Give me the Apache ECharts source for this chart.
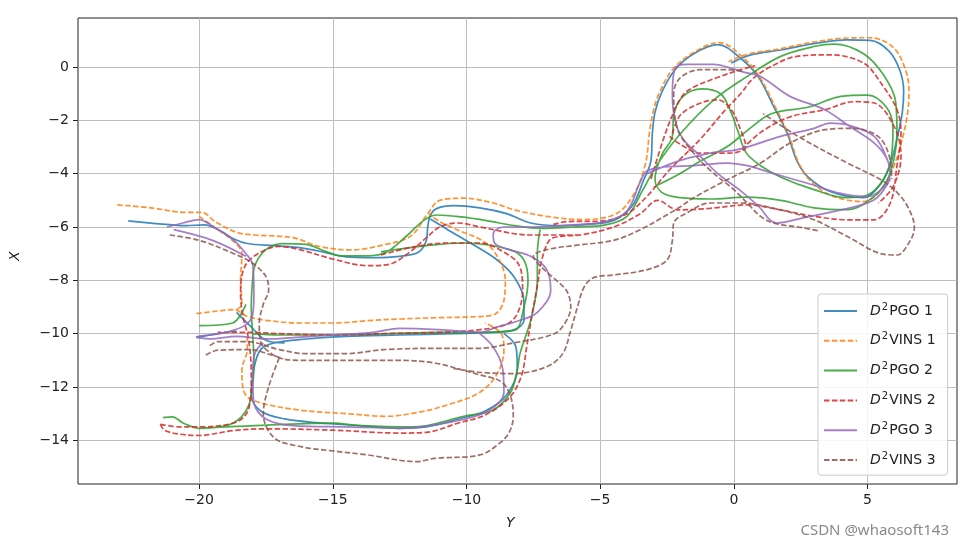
<!DOCTYPE html>
<html><head><meta charset="utf-8">
<script src="https://cdn.jsdelivr.net/npm/echarts@6/dist/echarts.min.js"></script>
<style>html,body{margin:0;padding:0;background:#fff}#c{width:969px;height:548px}</style>
</head><body><div id="c"></div>
<script>
const seriesNames = ['D\u00b2PGO 1','D\u00b2VINS 1','D\u00b2PGO 2','D\u00b2VINS 2','D\u00b2PGO 3','D\u00b2VINS 3'];
const xTicks = [-20,-15,-10,-5,0,5];
const yTicks = [0,-2,-4,-6,-8,-10,-12,-14];
// null = gap between trajectory pieces
const pgo1 = [[-22.65,-5.77],[-21.5,-5.88],[-20.5,-5.95],[-19.8,-5.92],[-19.2,-6.15],[-18.7,-6.45],[-18.2,-6.62],[-17.2,-6.7],[-16.2,-6.78],[-15.3,-6.95],[-14.5,-7.12],[-13.5,-7.15],[-12.5,-7.1],[-11.8,-6.95],[-11.5,-6.5],[-11.45,-6.0],[-11.35,-5.55],[-11.1,-5.3],[-10.5,-5.2],[-9.5,-5.28],[-8.5,-5.5],[-7.6,-5.85],[-6.5,-5.95],[-5.5,-5.9],[-4.5,-5.75],[-3.8,-5.2],[-3.4,-4.3],[-3.1,-3.5],[-3.05,-2.5],[-2.95,-1.7],[-2.7,-0.95],[-2.2,-0.1],[-1.5,0.5],[-0.6,0.84],[0.25,0.33],[0.9,-0.35],[1.5,-1.5],[2.0,-2.5],[2.35,-3.5],[2.75,-4.1],[3.6,-4.67],[4.85,-4.9],[5.4,-4.5],[5.8,-3.8],[6.1,-2.7],[6.3,-1.7],[6.35,-0.9],[6.2,-0.1],[5.8,0.6],[5.1,1.0],[4.2,1.02],[3.0,0.88],[1.8,0.65],[0.6,0.45],[-0.1,0.15],
  null,[-11.35,-5.7],[-10.7,-6.1],[-9.85,-6.6],[-8.9,-7.2],[-8.2,-7.9],[-7.85,-8.8],[-7.85,-9.5],[-8.2,-9.85],[-9.0,-9.95],[-10.5,-10.0],[-12.5,-10.05],[-14.5,-10.1],[-16.0,-10.2],[-17.2,-10.35],[-17.7,-10.6],[-17.95,-11.3],[-18.05,-12.3],[-17.7,-12.9],[-16.8,-13.2],[-15.5,-13.35],[-14,-13.45],[-12.5,-13.55],[-11.5,-13.5],[-10.3,-13.2],[-9.3,-12.9],[-8.5,-12.3],[-8.1,-11.3],[-8.15,-10.5],[-8.6,-10.0],
  null,[-20.1,-10.15],[-19.3,-10.0],[-18.6,-9.9],
  null,[-18.6,-9.2],[-18.1,-9.7],[-17.5,-10.25],[-16.8,-10.35]];
const vins1 = [[-23.06,-5.17],[-21.8,-5.28],[-20.5,-5.45],[-19.9,-5.45],[-19.4,-5.8],[-18.6,-6.2],[-17.9,-6.3],[-16.5,-6.4],[-15.5,-6.73],[-14.3,-6.86],[-13.1,-6.67],[-12.1,-6.35],[-11.45,-5.5],[-11.0,-5.0],[-10.1,-4.92],[-9.0,-5.1],[-8.2,-5.36],[-7.0,-5.6],[-5.7,-5.72],[-4.4,-5.5],[-3.7,-4.7],[-3.3,-3.6],[-3.15,-2.4],[-3.0,-1.6],[-2.8,-1.0],[-2.3,-0.1],[-1.5,0.55],[-0.55,0.92],[0.3,0.4],[0.95,-0.35],[1.55,-1.5],[2.05,-2.55],[2.4,-3.55],[2.8,-4.2],[3.6,-4.8],[4.85,-5.05],[5.5,-4.6],[5.95,-3.8],[6.3,-2.7],[6.5,-1.7],[6.55,-0.9],[6.4,-0.05],[5.95,0.75],[5.1,1.1],[4.1,1.08],[2.9,0.92],[1.7,0.68],[0.5,0.48],[-0.2,0.2],
  null,[-20.1,-9.25],[-19.3,-9.15],[-18.7,-9.1],[-18.2,-9.35],[-17.5,-9.5],[-16.2,-9.6],[-15,-9.6],[-13.5,-9.5],[-12.5,-9.45],[-11.0,-9.4],[-10.1,-9.38],[-9.0,-9.3],[-8.6,-8.75],[-8.55,-8.0],[-8.85,-7.1],[-9.35,-6.55],[-10.35,-6.1],[-11.0,-5.8],[-11.4,-5.5],
  null,[-20.0,-5.6],[-19.3,-6.1],[-18.7,-6.55],[-18.4,-7.0],[-18.45,-8.0],[-18.4,-8.9],[-18.6,-9.1],
  null,[-18.2,-10.1],[-18.2,-10.6],[-18.4,-11.36],[-18.35,-12.1],[-18.0,-12.5],[-16.3,-12.86],[-14.5,-13.0],[-13.0,-13.1],[-11.8,-12.95],[-10.7,-12.67],[-9.5,-12.2],[-8.85,-11.5],[-8.6,-10.6],[-8.7,-10.0],[-9.3,-9.6]];
const pgo2 = [[-21.35,-13.15],[-21.0,-13.12],[-20.6,-13.35],[-20.0,-13.55],[-19.0,-13.45],[-18.5,-13.2],[-18.15,-12.7],[-18.0,-12.0],[-17.95,-11.0],[-18.0,-10.0],[-18.05,-9.0],[-18.0,-8.0],[-17.9,-7.4],[-17.5,-6.85],[-16.9,-6.62],[-16.0,-6.65],[-15.3,-6.9],[-14.7,-7.08],[-13.7,-7.08],[-13.0,-6.95],[-12.2,-6.3],[-11.6,-5.75],[-11.1,-5.55],[-10.2,-5.62],[-9.3,-5.75],[-8.2,-5.95],[-7.2,-6.05],[-6.0,-6.0],[-4.8,-5.92],[-4.0,-5.6],[-3.4,-4.6],[-2.9,-3.7],[-2.0,-2.5],[-0.75,-1.23],[0.5,-0.35],[1.75,0.4],[3.0,0.77],[3.75,0.86],[4.85,0.5],[5.6,-0.3],[6.05,-1.3],[6.1,-2.5],[6.0,-3.4],[5.75,-4.2],[5.25,-4.85],[4.25,-5.35],[3.0,-5.28],[1.75,-5.0],[0.5,-4.88],[-0.9,-4.95],[-2.0,-4.9],[-2.7,-4.7],[-2.95,-4.2],[-2.7,-3.3],[-2.3,-2.6],[-2.25,-1.8],[-1.9,-1.1],[-1.2,-0.82],[-0.5,-1.0],[-0.15,-1.6],[0.15,-2.4],[0.45,-3.2],[1.0,-3.7],[1.8,-4.15],[3.0,-4.6],[4.2,-4.9],[5.0,-4.8],[5.6,-4.2],[5.9,-3.3],[5.95,-2.3],[5.7,-1.5],[5.0,-1.05],[4.0,-1.1],[2.8,-1.5],[1.4,-1.75],[0.6,-2.3],[-0.2,-2.95],[-1.2,-3.5],[-2.2,-4.1],[-3.0,-4.5],
  null,[-20.0,-9.7],[-18.75,-9.6],[-18.25,-8.9],
  null,[-7.25,-6.1],[-7.35,-7.0],[-7.35,-8.0],[-7.6,-9.5],[-8.0,-10.75],[-8.1,-11.36],[-8.35,-12.2],[-9.0,-12.86],[-10.1,-13.1],[-12.0,-13.5],[-14.0,-13.45],[-15.0,-13.36],[-17.45,-13.43],[-19.0,-13.5],[-20.0,-13.55],
  null,[-13.2,-6.93],[-11.5,-6.7],[-10.1,-6.6],[-8.35,-6.86],[-7.85,-7.24],[-7.7,-8.0],[-7.85,-9.0],[-8.2,-9.87],[-9.5,-9.95],[-11,-9.95],[-13,-10.0],[-15,-10.05],[-17,-10.05],[-18.0,-10.0]];
const vins2 = [[-21.45,-13.4],[-21.3,-13.62],[-20.8,-13.76],[-20.0,-13.82],[-18.7,-13.63],[-17.45,-13.57],[-15,-13.62],[-12.5,-13.73],[-11.5,-13.7],[-10.3,-13.35],[-9.3,-13.05],[-8.4,-12.4],[-7.95,-11.6],[-7.75,-10.5],[-7.55,-9.3],[-7.35,-8.2],[-7.2,-7.3],[-6.9,-6.5],[-6.5,-6.35],[-5.75,-6.3],[-4.5,-6.0],[-3.5,-5.5],[-2.85,-5.0],[-2.1,-5.36],[-0.9,-5.3],[0.5,-5.17],[1.75,-5.36],[3.0,-5.6],[4.25,-5.73],[5.25,-5.73],[5.85,-5.1],[6.1,-3.7],[6.25,-2.5],[6.1,-1.6],[5.5,-0.6],[4.85,0.15],[3.6,0.46],[2.35,0.4],[1.35,0.0],[0.7,-0.45],[0.25,-1.0],[-0.4,-1.7],[-1.25,-2.7],[-2.4,-3.85],[-3.25,-4.85],[-4.0,-5.5],[-5.0,-5.78],[-6.25,-5.8],[-6.75,-5.9],
  null,[-3.1,-4.2],[-2.6,-2.6],[-2.25,-1.7],[-1.9,-1.05],[-1.5,-0.75],[-0.5,-0.35],[0.25,-0.1],[0.8,0.05],
  null,[-2.3,-2.5],[-2.0,-1.8],[-1.25,-1.35],[-0.6,-1.23],[-0.1,-1.6],[0.25,-2.35],[0.45,-3.0],[0.1,-3.2],[-0.25,-3.23],[-1.25,-3.23],[-2.0,-2.9],[-2.4,-2.6],
  null,[0.3,-3.1],[1.0,-2.45],[2.1,-1.87],[3.4,-1.6],[4.5,-1.3],[5.25,-1.35],[6.0,-2.24],[6.25,-3.35],[5.95,-4.5],[5.4,-5.1],
  null,[-5.75,-6.3],[-7.6,-6.3],[-9.5,-6.0],[-10.3,-5.85],[-11.0,-6.0],[-11.5,-6.4],[-12.2,-7.0],[-12.9,-7.4],[-13.7,-7.45],[-15.0,-7.2],[-16.2,-6.86],[-17.0,-6.73],[-17.8,-7.0],[-18.3,-7.5],[-18.45,-8.5],[-18.35,-9.4],[-18.15,-10.2],[-18.05,-11.5],[-18.1,-12.6],[-18.3,-13.1],[-18.8,-13.38],[-20.0,-13.5],[-20.7,-13.5],[-21.45,-13.4],
  null,[-13.2,-7.05],[-12.0,-6.75],[-10.7,-6.6],[-9.5,-6.6],[-8.5,-7.0],[-8.0,-7.5],[-7.9,-8.4],[-8.1,-9.25],[-8.5,-9.65],[-9.5,-9.85],[-11,-9.95],[-13,-10.0],[-15,-10.05],[-17,-10.0],[-18.2,-9.95],[-19.3,-9.95]];
const pgo3 = [[-21.2,-6.0],[-20.6,-5.85],[-20.0,-5.72],[-19.6,-5.9],[-18.7,-6.5],[-18.25,-7.0],[-18.0,-7.4],[-17.95,-8.5],[-18.0,-9.3],[-18.3,-9.7],[-19.0,-9.95],[-19.6,-10.05],[-20.1,-10.12],[-19.6,-10.2],[-18.6,-10.1],[-17.5,-10.2],[-16.5,-10.15],[-15,-10.05],[-13.5,-9.95],[-12.5,-9.8],[-11,-9.85],[-9.5,-9.95],[-8.85,-9.75],[-8.0,-9.5],[-7.35,-9.2],[-6.85,-8.4],[-7.0,-7.6],[-7.6,-7.1],[-8.4,-6.85],[-8.95,-6.6],[-9.0,-6.25],[-8.6,-6.0],[-7.5,-6.0],[-6.0,-5.92],[-4.8,-5.8],[-4.0,-5.4],[-3.5,-4.3],[-3.25,-3.9],[-2.6,-3.75],[-1.5,-3.7],[-0.25,-3.6],[0.5,-3.7],[1.5,-4.0],[2.75,-4.36],[4.0,-4.74],[5.0,-4.86],[5.6,-4.5],[5.85,-3.98],[5.7,-3.4],[5.25,-2.85],[4.35,-2.24],[3.4,-1.6],[2.1,-1.1],[1.0,-0.35],[0.4,-0.2],[-0.25,0.0],[-0.75,0.1],[-1.75,0.1],[-2.2,-0.05],[-2.3,-1.0],[-2.2,-2.0],[-1.9,-2.7],[-1.3,-3.3],[-0.6,-4.0],[0.2,-4.6],[0.9,-5.2],[1.6,-5.85],[2.75,-5.62],[4.0,-5.36],[5.25,-4.98],[5.85,-4.2],
  null,[-3.25,-4.0],[-2.0,-3.5],[-0.75,-3.2],[0.13,-3.1],[1.75,-2.6],[3.0,-2.3],[3.6,-2.1],[4.25,-2.17],[5.25,-2.6],[5.75,-3.5],[5.85,-4.0],
  null,[-9.5,-10.0],[-9.0,-10.5],[-8.65,-11.3],[-8.6,-12.2],[-9.2,-12.9],[-10.5,-13.3],[-12.5,-13.55],[-14.5,-13.5],[-16.5,-13.45],[-17.5,-13.2],[-17.95,-12.6],[-18.0,-11.5],[-17.9,-10.7],[-17.6,-10.35],
  null,[-20.95,-6.1],[-19.5,-6.5],[-18.25,-7.1]];
const vins3 = [[-21.1,-6.3],[-20.0,-6.5],[-18.7,-7.0],[-18.0,-7.36],[-17.5,-7.86],[-17.4,-8.36],[-17.6,-8.9],[-17.75,-9.6],[-17.7,-10.3],[-17.3,-10.75],[-16.85,-10.95],[-16.2,-11.0],[-15,-11.0],[-13.5,-11.0],[-12.5,-11.0],[-11.2,-11.1],[-10.2,-11.35],[-9.5,-11.55],[-8.7,-11.8],[-8.35,-12.36],[-8.25,-13.1],[-8.4,-13.7],[-8.75,-14.1],[-9.5,-14.55],[-11.2,-14.68],[-11.85,-14.8],[-13.7,-14.55],[-15,-14.4],[-16.2,-14.24],[-17.2,-13.9],[-17.6,-13.0],[-17.4,-12.0],[-17.0,-10.9],
  null,[-19.6,-10.45],[-19.3,-10.3],[-18.2,-10.3],[-17.0,-10.6],[-16.0,-10.75],[-14.5,-10.75],[-13.1,-10.6],[-11.0,-10.55],[-9.5,-10.55],[-8.25,-10.35],[-7.0,-10.1],[-6.5,-9.85],[-6.1,-9.0],[-6.25,-8.4],[-6.7,-7.95],[-7.2,-7.5],[-7.5,-7.1],[-7.0,-6.85],[-5.75,-6.67],[-4.5,-6.5],[-3.5,-6.1],[-2.6,-5.6],[-2.0,-5.24],[-1.5,-4.9],[-0.25,-4.23],[1.0,-3.6],[2.1,-2.85],[3.4,-2.35],[4.35,-2.3],[4.85,-2.35],[5.5,-2.7],[5.85,-3.5],[5.9,-4.2],
  null,[-19.75,-10.8],[-19.3,-10.62],[-18.1,-10.6],[-17.3,-10.8],[-16.85,-10.95],
  null,[-10.5,-11.3],[-9.5,-11.45],[-8.25,-11.5],[-7.0,-11.24],[-6.4,-10.75],[-6.1,-9.87],[-5.85,-9.0],[-5.6,-8.25],[-5.25,-7.9],[-4.5,-7.8],[-3.25,-7.6],[-2.5,-7.24],[-2.3,-6.5],[-2.25,-5.85],[-1.75,-5.47],[-0.9,-5.1],[0.25,-5.1],[1.5,-5.3],[3.0,-5.73],[4.25,-6.36],[5.5,-7.0],[6.1,-7.05],[6.6,-6.5],[6.75,-6.0],[6.5,-5.24],[6.1,-4.7],[5.5,-4.23],[4.25,-3.6],[2.4,-2.6],[1.1,-1.75],
  null,[0.3,-0.15],[-0.25,-0.1],[-1.25,-0.1],[-2.0,-0.4],[-2.25,-1.0],[-2.1,-2.35],[-1.5,-3.23],[-0.9,-3.86],[0.0,-4.6],[0.5,-5.1],[1.0,-5.6],[1.5,-5.86],[2.4,-6.0],[3.2,-6.15]];

const colors = ['#1f77b4','#ff7f0e','#2ca02c','#d62728','#9467bd','#8c564b'];
const dashed = [false,true,false,true,false,true];
const allData = [pgo1, vins1, pgo2, vins2, pgo3, vins3];

const chart = echarts.init(document.getElementById('c'));
const fmtMinus = v => String(v).replace('-', '\u2212');
const series = allData.map((d, i) => ({
  name: seriesNames[i], type: 'line', showSymbol: false, symbol: 'none', silent: true,
  connectNulls: false, clip: true, smooth: 0.35,
  data: d.map(p => p === null ? ['-','-'] : p),
  itemStyle: { color: colors[i] },
  lineStyle: { color: colors[i], width: 1.7, opacity: 0.85, type: dashed[i] ? [5.5, 2.4] : 'solid' }
}));
const richText = { fontFamily: 'DejaVu Sans', fontSize: 14, color: '#222', lineHeight: 18 };
chart.setOption({
  animation: false,
  backgroundColor: '#fff',
  grid: { left: 78, right: 12, top: 18, bottom: 64, show: true, borderColor: '#222', borderWidth: 1, backgroundColor: 'transparent' },
  xAxis: {
    type: 'value', min: -24.53, max: 8.345, minInterval: 5, maxInterval: 5, splitNumber: 6,
    axisLine: { show: false, onZero: false },
    axisTick: { show: true, length: 5, customValues: xTicks, lineStyle: { color: '#222', width: 1 } },
    axisLabel: { customValues: xTicks, formatter: fmtMinus, fontFamily: 'DejaVu Sans', fontSize: 14, color: '#222', margin: 9 },
    splitLine: { show: true, lineStyle: { color: '#bdbdbd', width: 1 } }
  },
  yAxis: {
    type: 'value', min: -15.64, max: 1.84, minInterval: 2, maxInterval: 2, splitNumber: 8,
    axisLine: { show: false, onZero: false },
    axisTick: { show: true, length: 5, customValues: yTicks, lineStyle: { color: '#222', width: 1 } },
    axisLabel: { customValues: yTicks, formatter: fmtMinus, fontFamily: 'DejaVu Sans', fontSize: 14, color: '#222', margin: 9 },
    splitLine: { show: true, lineStyle: { color: '#bdbdbd', width: 1 } }
  },
  legend: {
    orient: 'vertical', left: 818, top: 294,
    padding: [8, 12, 8, 5], itemWidth: 33, itemHeight: 18, itemGap: 13.6,
    backgroundColor: 'rgba(255,255,255,0.85)', borderColor: '#cccccc', borderWidth: 1, borderRadius: 3,
    itemStyle: { opacity: 0 },
    data: seriesNames,
    formatter: name => '{i|D}{s|2}{t|' + name.slice(2) + '}',
    textStyle: {
      padding: [0, 0, 0, 8],
      rich: {
        i: Object.assign({}, richText, { fontStyle: 'italic' }),
        s: { fontFamily: 'DejaVu Sans', fontSize: 10, color: '#222', lineHeight: 18, verticalAlign: 'top', padding: [0, 1, 0, 1] },
        t: richText
      }
    }
  },
  graphic: [
    { type: 'text', left: 506, top: 516, style: { text: 'Y', font: 'italic 14px "DejaVu Sans"', fill: '#222' } },
    { type: 'text', x: 8, y: 261, rotation: Math.PI / 2, style: { text: 'X', font: 'italic 14px "DejaVu Sans"', fill: '#222' } },
    { type: 'text', right: 20, top: 523, style: { text: 'CSDN @whaosoft143', font: '15px "Noto Sans"', fill: '#8a8a8a' } }
  ],
  series: series
});
</script>
</body></html>
